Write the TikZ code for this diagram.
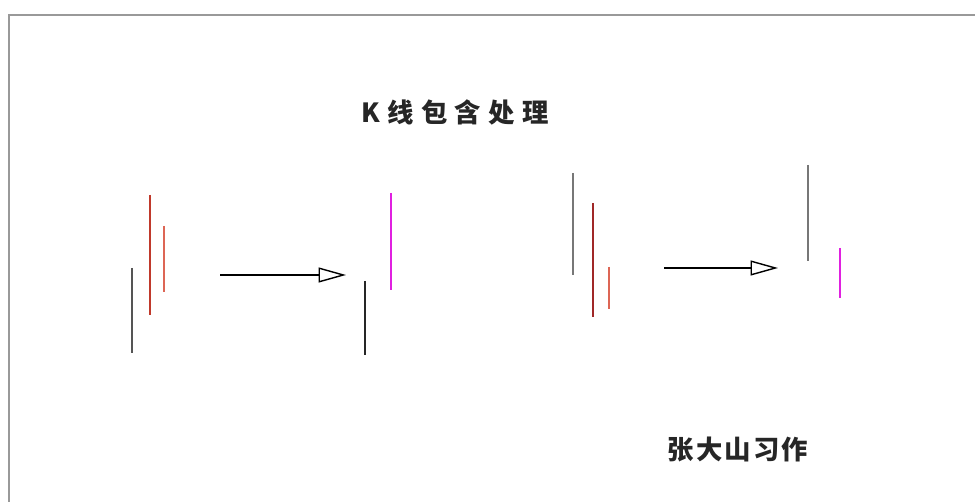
\documentclass[tikz,border=0pt]{standalone}
\usepackage{fontspec}
\usepackage{xcolor}
\usepackage{tikz}
\usetikzlibrary{arrows.meta,positioning}
\newfontfamily\cjk{Noto Sans CJK SC}
\newcommand{\gp}[1]{\hspace{#1em}}

\definecolor{barGray}{HTML}{555555}
\definecolor{barRed}{HTML}{C0392B}
\definecolor{barLight}{HTML}{DD6655}
\definecolor{barDark}{HTML}{A02828}
\definecolor{barMag}{HTML}{E020E0}

\begin{document}
\begin{tikzpicture}[
  x=0.02cm, y=-0.02cm,
  bar/.style={line width=1.4pt},
  arr/.style={-{Triangle[open, length=5.5mm, width=3mm]}, line width=0.8pt},
  lbl/.style={font=\cjk\bfseries\fontsize{15}{17}\selectfont, text=black!85}
]
  \useasboundingbox (0,0) rectangle (975,502);
  % frame
  \draw[black!40, line width=1.2pt] (975,15) -- (9,15) -- (9,502);

  \node[lbl] (title) at (455,112) {K\gp{.28}线\gp{.28}包\gp{.28}含\gp{.28}处\gp{.28}理};
  \node[lbl] (author) at (738,450) {张\gp{.08}大\gp{.08}山\gp{.08}习\gp{.08}作};

  % left group: before
  \draw[bar, barGray] (132,268) -- (132,353);
  \draw[bar, barRed] (150,195) -- (150,315);
  \draw[bar, barLight] (164,226) -- (164,292);
  \coordinate (a1s) at (220,275);
  \coordinate (a1e) at (346,275);
  \draw[arr] (a1s) -- (a1e);
  % left group: after
  \draw[bar, black!85] (365,281) -- (365,355);
  \draw[bar, barMag] (391,193) -- (391,290);

  % right group: before
  \draw[bar, barGray!80] (573,173) -- (573,275);
  \draw[bar, barDark] (593,203) -- (593,317);
  \draw[bar, barLight] (609,267) -- (609,309);
  \coordinate (a2s) at (664,268);
  \coordinate (a2e) at (778,268);
  \draw[arr] (a2s) -- (a2e);
  % right group: after
  \draw[bar, barGray!80] (808,165) -- (808,261);
  \draw[bar, barMag] (840,248) -- (840,298);
\end{tikzpicture}
\end{document}
